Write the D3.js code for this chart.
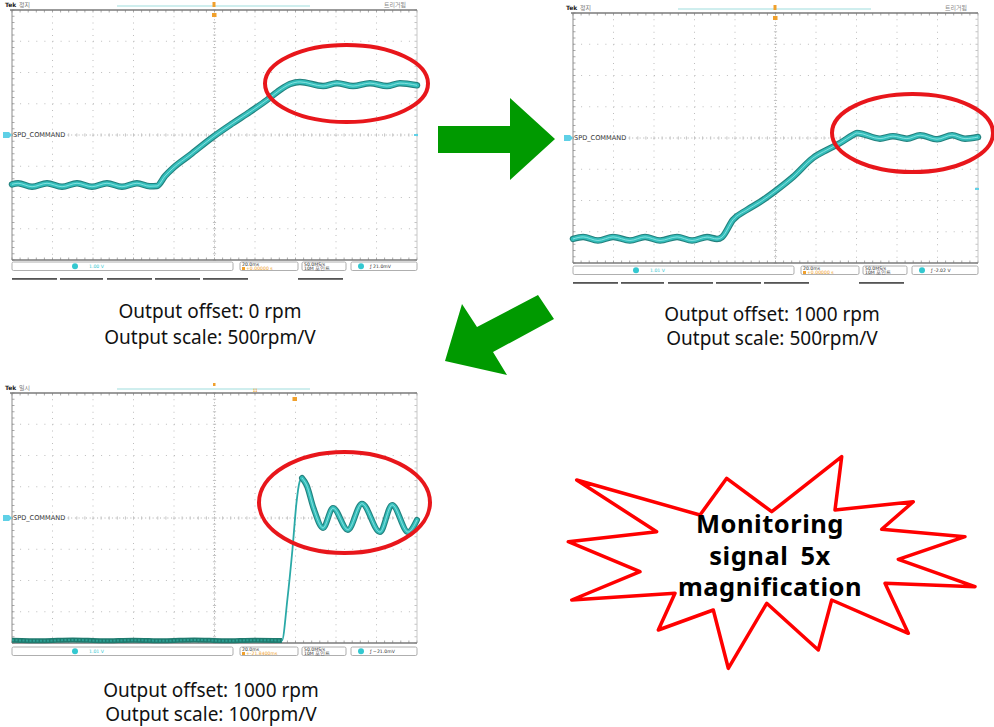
<!DOCTYPE html>
<html><head><meta charset="utf-8">
<script src="https://cdn.jsdelivr.net/npm/d3@7"></script>
<style>body{margin:0;background:#fff}svg{display:block}</style>
</head><body>
<svg id="c" width="994" height="727"></svg>
<script>
// ---------- data ----------
const timeGrid = [-100,-80,-60,-40,-20,0,20,40,60,80,100];   // ms (20 ms/div)
const voltGrid = [-4,-3,-2,-1,0,1,2,3,4];                      // divisions

const trace1Time = [-100,-97,-90.1,-82.7,-75.3,-67.9,-60.5,-53.1,-45.7,-38.3,-31.9,-28.4,-24.4,-20.5,-12.1,-0.7,9.1,17.5,25.9,32.3,37.3,42.2,53.6,60.5,68.4,76.8,85.2,91.6,100];
const trace1Volt = [-1.58,-1.545,-1.655,-1.545,-1.655,-1.545,-1.655,-1.545,-1.655,-1.545,-1.64,-1.63,-1.31,-1.06,-0.64,-0.06,0.38,0.74,1.12,1.44,1.63,1.70,1.565,1.66,1.565,1.66,1.565,1.66,1.59];

const trace2Time = [-100,-95,-87.7,-80.2,-71.9,-64.4,-57,-48.6,-41.2,-33.8,-28.9,-26.4,-21,-14.1,-7.7,0.7,8.6,18.5,25.4,31.9,38.3,40.2,51.6,58,64.9,71.4,79.8,87.2,93.6,100];
const trace2Volt = [-3.23,-3.165,-3.28,-3.165,-3.28,-3.165,-3.28,-3.165,-3.28,-3.17,-3.23,-3.17,-2.62,-2.30,-2.05,-1.66,-1.25,-0.64,-0.38,-0.16,0.10,0.16,-0.02,0.06,-0.02,0.09,-0.04,0.09,-0.02,0.03];

const trace3Time = [-100,-85,-70,-55,-40,-25,-10,5,20,33.3,36,38.5,40.5,42,43.2,45.5,49,53.6,58.5,65.9,72.8,81.7,87.7,95.6,100];
const trace3Volt = [-3.91,-3.93,-3.90,-3.93,-3.91,-3.93,-3.90,-3.93,-3.91,-3.92,-2.6,-1.0,0.5,1.15,1.28,1.05,0.3,-0.32,0.32,-0.38,0.46,-0.45,0.42,-0.45,-0.06];

const channelLabel = "SPD_COMMAND";
const status1 = ["1.00 V","20.0ms","+0.00000 s","50.0MS/s","10M 포인트","21.0mV"];
const status2 = ["1.01 V","20.0ms","+0.00000 s","50.0MS/s","10M 포인트","-2.02 V"];
const status3 = ["1.01 V","20.0ms","+-21.8400ms","50.0MS/s","10M 포인트","~21.0mV"];

const captions1 = ["Output offset: 0 rpm","Output scale: 500rpm/V"];
const captions2 = ["Output offset: 1000 rpm","Output scale: 500rpm/V"];
const captions3 = ["Output offset: 1000 rpm","Output scale: 100rpm/V"];
const burstText = ["Monitoring","signal 5x","magnification"];

// ---------- layout ----------
const svg = d3.select("#c");
const GW = 405, GH = 250;
const panels = [
  {L:12, T:10, time:trace1Time, volt:trace1Volt, status:status1, sb:2, tabs:19, tek:"정지", tr:"트리거됨",
   ell:[346.5,83.5,81.5,38.5], rightMark:0, caption:captions1, capX:210, capY:[318,344]},
  {L:573, T:13, time:trace2Time, volt:trace2Volt, status:status2, sb:3, tabs:20, tek:"정지", tr:"트리거됨",
   ell:[912.5,133,80.5,39], rightMark:-1.63, caption:captions2, capX:772, capY:[321,345]},
  {L:12, T:393, time:trace3Time, volt:trace3Volt, status:status3, sb:4, tabs:null, tek:"일시", tr:"",
   ell:[344.5,502.5,85.5,50.5], rightMark:null, caption:captions3, capX:211, capY:[697,721], split:[9,14]}
];

function drawScope(p){
  const g = svg.append("g");
  const x = d3.scaleLinear().domain([-100,100]).range([p.L, p.L+GW]);
  const y = d3.scaleLinear().domain([-4,4]).range([p.T+GH, p.T]);
  const B = p.T+GH, R = p.L+GW;

  // dotted grid
  g.selectAll(null).data(timeGrid.filter(t=>t!==0 && Math.abs(t)!==100)).join("line")
    .attr("x1",d=>x(d)).attr("x2",d=>x(d)).attr("y1",p.T).attr("y2",B)
    .attr("stroke","#bdbdbd").attr("stroke-width",1).attr("stroke-dasharray","1,5.25");
  g.selectAll(null).data(voltGrid.filter(v=>v!==0 && Math.abs(v)!==4)).join("line")
    .attr("y1",d=>y(d)).attr("y2",d=>y(d)).attr("x1",p.L).attr("x2",R)
    .attr("stroke","#bdbdbd").attr("stroke-width",1).attr("stroke-dasharray","1,7.1");
  // centre lines
  g.append("line").attr("x1",x(0)).attr("x2",x(0)).attr("y1",p.T).attr("y2",B)
    .attr("stroke","#b0b0b0").attr("stroke-dasharray","1,2.1");
  g.append("line").attr("y1",y(0)).attr("y2",y(0)).attr("x1",p.L).attr("x2",R)
    .attr("stroke","#b0b0b0").attr("stroke-dasharray","1,2.7");
  const minorT = d3.range(-100,100.01,4), minorV = d3.range(-4,4.001,0.2);
  g.selectAll(null).data(minorT).join("line").attr("x1",d=>x(d)).attr("x2",d=>x(d))
    .attr("y1",y(0)-1.6).attr("y2",y(0)+1.6).attr("stroke","#c4c4c4");
  g.selectAll(null).data(minorV).join("line").attr("y1",d=>y(d)).attr("y2",d=>y(d))
    .attr("x1",x(0)-1.6).attr("x2",x(0)+1.6).attr("stroke","#c4c4c4");
  // border ticks
  g.selectAll(null).data(minorT).join("line").attr("x1",d=>x(d)).attr("x2",d=>x(d))
    .attr("y1",p.T).attr("y2",p.T+2.5).attr("stroke","#aaa");
  g.selectAll(null).data(minorT).join("line").attr("x1",d=>x(d)).attr("x2",d=>x(d))
    .attr("y1",B).attr("y2",B-2.5).attr("stroke","#aaa");
  g.selectAll(null).data(minorV).join("line").attr("y1",d=>y(d)).attr("y2",d=>y(d))
    .attr("x1",p.L).attr("x2",p.L+2.5).attr("stroke","#aaa");
  g.selectAll(null).data(minorV).join("line").attr("y1",d=>y(d)).attr("y2",d=>y(d))
    .attr("x1",R).attr("x2",R-2.5).attr("stroke","#c4c4c4");
  // border
  g.append("line").attr("x1",p.L).attr("x2",p.L).attr("y1",p.T).attr("y2",B).attr("stroke","#8a8a8a");
  g.append("line").attr("x1",R).attr("x2",R).attr("y1",p.T).attr("y2",B).attr("stroke","#c8c8c8");
  g.append("line").attr("x1",p.L-2).attr("x2",R).attr("y1",p.T).attr("y2",p.T).attr("stroke","#7a7a7a").attr("stroke-width",1.6);
  g.append("line").attr("x1",p.L).attr("x2",R).attr("y1",B).attr("y2",B).attr("stroke","#7a7a7a").attr("stroke-width",1.4);

  // top bar
  g.append("line").attr("x1",p.L+105).attr("x2",p.L+298).attr("y1",p.T-4).attr("y2",p.T-4)
    .attr("stroke","#9fdede").attr("stroke-width",1.2);
  g.append("text").attr("x",p.L-7).attr("y",p.T-3).attr("font-family","DejaVu Sans").attr("font-size",6)
    .attr("font-weight","bold").attr("fill","#222").text("Tek");
  g.append("text").attr("x",p.L+7).attr("y",p.T-3).attr("font-family","Noto Sans CJK KR").attr("font-size",6)
    .attr("fill","#777").text(p.tek);
  if(p.tr) g.append("text").attr("x",p.L+372).attr("y",p.T-3).attr("font-family","Noto Sans CJK KR").attr("font-size",6)
    .attr("fill","#888").text(p.tr);
  const orange = "#f0a02c";
  if(!p.split){
    g.append("rect").attr("x",x(0)-2).attr("y",p.T-8).attr("width",3).attr("height",5).attr("fill",orange);
    g.append("rect").attr("x",x(0)-2.5).attr("y",p.T+3).attr("width",4.5).attr("height",4).attr("fill",orange);
  } else {
    g.append("rect").attr("x",x(0)-1.5).attr("y",p.T-10).attr("width",2.5).attr("height",3).attr("fill",orange);
    g.append("text").attr("x",x(19)).attr("y",p.T-1).attr("font-size",6).attr("fill",orange).attr("font-family","DejaVu Sans").text("ɪɪ");
    g.append("rect").attr("x",x(39.5)-2).attr("y",p.T+4).attr("width",4.5).attr("height",4).attr("fill",orange);
  }

  // channel label
  g.append("rect").attr("x",p.L-9).attr("y",y(0)-3).attr("width",6).attr("height",6).attr("fill","#5fd0e6");
  g.append("path").attr("d",`M${p.L-3},${y(0)-3}L${p.L},${y(0)}L${p.L-3},${y(0)+3}Z`).attr("fill","#5fd0e6");
  g.append("rect").attr("x",p.L+1).attr("y",y(0)-3.5).attr("width",52).attr("height",7).attr("fill","#fff");
  g.append("text").attr("x",p.L+1).attr("y",y(0)+2.4).attr("font-family","DejaVu Sans").attr("font-size",6.6)
    .attr("fill","#333").text(channelLabel);
  if(p.rightMark!==null){
    g.append("rect").attr("x",R-3).attr("y",y(p.rightMark)-1).attr("width",4).attr("height",2).attr("fill","#5fd0e6");
  }

  // trace
  const pts = d3.zip(p.time,p.volt);
  const line = d3.line().x(d=>x(d[0])).y(d=>y(d[1])).curve(d3.curveMonotoneX);
  const band = (data, w) => {
    g.append("path").attr("d",line(data)).attr("fill","none").attr("stroke","#23817e").attr("stroke-width",w)
      .attr("stroke-linejoin","round").attr("stroke-linecap","round");
    g.append("path").attr("d",line(data)).attr("fill","none").attr("stroke","#34bebb").attr("stroke-width",w-2.2)
      .attr("stroke-linejoin","round").attr("stroke-linecap","round");
    g.append("path").attr("d",line(data)).attr("fill","none").attr("stroke","#8fe4e2").attr("stroke-width",0.9)
      .attr("stroke-linejoin","round");
  };
  if(!p.split){
    band(pts, 6.5);
  } else {
    g.append("path").attr("d",line(pts)).attr("fill","none").attr("stroke","#2aa9a7").attr("stroke-width",1.8);
    const flat = pts.slice(0,p.split[0]+1);
    g.append("path").attr("d",line(flat)).attr("fill","none").attr("stroke","#1f7a6e").attr("stroke-width",5);
    g.append("path").attr("d",line(flat)).attr("fill","none").attr("stroke","#2c9f93").attr("stroke-width",2)
      .attr("stroke-dasharray","2,1.5");
    band(pts.slice(p.split[1]), 6);
  }

  // status bar
  const sy = B + p.sb, sh = 8.5;
  const boxes = [[0,221],[228,286],[290,334],[339,405]];
  g.selectAll(null).data(boxes).join("rect").attr("x",d=>p.L+d[0]).attr("y",sy).attr("width",d=>d[1]-d[0]).attr("height",sh)
    .attr("rx",1.5).attr("fill","#fff").attr("stroke","#9a9a9a").attr("stroke-width",0.8);
  const small = (tx,ty,txt,col)=>g.append("text").attr("x",tx).attr("y",ty).attr("font-family","DejaVu Sans")
    .attr("font-size",4.6).attr("fill",col).text(txt);
  g.append("circle").attr("cx",p.L+63).attr("cy",sy+sh/2).attr("r",3).attr("fill","#33c8d0");
  small(p.L+77, sy+6, p.status[0], "#33c8d0");
  small(p.L+230, sy+4, p.status[1], "#333");
  g.append("rect").attr("x",p.L+230).attr("y",sy+5).attr("width",3).attr("height",3).attr("fill",orange);
  small(p.L+234, sy+8.2, p.status[2], orange);
  small(p.L+292, sy+4, p.status[3], "#333");
  small(p.L+292, sy+8.2, p.status[4], "#333");
  g.append("circle").attr("cx",p.L+349).attr("cy",sy+sh/2).attr("r",3).attr("fill","#33c8d0");
  small(p.L+358, sy+6, "ƒ " + p.status[5], "#333");
  if(p.tabs!==null){
    const tabs = [[0,45],[48,91],[95,140],[143,188],[191,236],[286,331]];
    g.selectAll(null).data(tabs).join("rect").attr("x",d=>p.L+d[0]).attr("y",B+p.tabs-1).attr("width",d=>d[1]-d[0])
      .attr("height",1.8).attr("fill","#555");
  }

  // red ellipse
  svg.append("ellipse").attr("cx",p.ell[0]).attr("cy",p.ell[1]).attr("rx",p.ell[2]).attr("ry",p.ell[3])
    .attr("fill","none").attr("stroke","#e8161b").attr("stroke-width",4);

  // captions
  svg.selectAll(null).data(p.caption).join("text").attr("x",p.capX).attr("y",(d,i)=>p.capY[i])
    .attr("text-anchor","middle").attr("font-family","Noto Sans").attr("font-size",19).attr("fill","#111").text(d=>d);
}

panels.forEach(drawScope);

// arrows
const green = "#009a00";
svg.append("polygon").attr("points","438,126 510,126 510,98 555,139 510,180 510,153 438,153").attr("fill",green);
svg.append("polygon").attr("points","538,295 554,319 493,352 507,375 445,361 462,304 477,327").attr("fill",green);

// starburst
const burst = [[576.7,480],[700,515],[726.7,478.3],[771.7,511.7],[841.7,456.7],[835,510],[913.3,501.7],[881.7,529.3],
  [965,536.7],[898.3,559.3],[975,586.7],[885,583.3],[908.3,633.3],[831.7,600],[818.3,650],[766.7,603.3],
  [728.3,668.3],[713.3,610],[658.3,630],[675,593.3],[571.7,600],[640,571.7],[568.3,541.7],[656.7,531.7]];
svg.append("polygon").attr("points",burst.map(d=>d.join(",")).join(" "))
  .attr("fill","#fff").attr("stroke","#ff0000").attr("stroke-width",3.5).attr("stroke-linejoin","round");
svg.selectAll(null).data(burstText).join("text").attr("x",770).attr("y",(d,i)=>533+i*31.5)
  .attr("text-anchor","middle").attr("font-family","Noto Sans").attr("font-weight","bold").attr("font-size",25.5)
  .attr("letter-spacing",0.5).attr("word-spacing",5).attr("fill","#000").text(d=>d);
</script>
</body></html>
